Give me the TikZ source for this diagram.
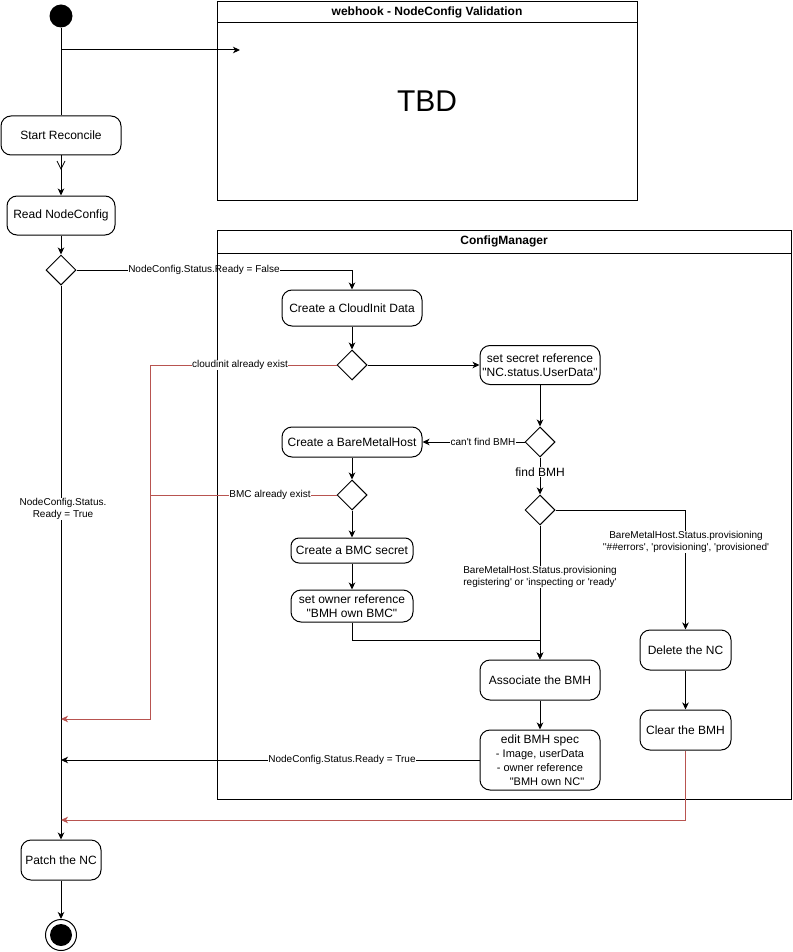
\documentclass[tikz,border=0pt]{standalone}
\usepackage{fontspec}
\setmainfont{Liberation Sans}
\usetikzlibrary{shapes.geometric,arrows.meta}
\definecolor{cmred}{HTML}{B85450}
\newcommand\sQ{\textquotesingle}
\newcommand\dQ{\textquotedbl}
\newcommand\smf{\fontsize{11}{13}\selectfont}
\begin{document}
\begin{tikzpicture}[x=1pt,y=-1pt, line width=1pt,
  >={Stealth[length=7pt,width=6.5pt,inset=2pt]},
  box/.style={draw, rounded corners=10pt, align=center, font=\fontsize{12}{14}\selectfont, inner sep=1pt},
  dec/.style={draw, diamond, minimum width=30pt, minimum height=30pt, inner sep=0pt, fill=white},
  lbl/.style={fill=white, font=\fontsize{10}{12}\selectfont, inner sep=0.5pt, align=center},
  redl/.style={draw=cmred},
  title/.style={font=\bfseries\fontsize{12}{14}\selectfont}]
\useasboundingbox (0,0) rectangle (792,952);

% ---------- nodes ----------
\node[circle, fill=black, minimum size=23pt, inner sep=0pt] (start) at (61,16) {};
\node[box, minimum width=120pt, minimum height=39pt] (sr) at (61,135.5) {Start Reconcile};
\node[box, minimum width=108pt, minimum height=39pt] (rn) at (61,215.5) {Read NodeConfig};
\node[dec] (d1) at (61,270) {};
\node[box, minimum width=80pt, minimum height=40pt] (patch) at (61,860) {Patch the NC};
\node[circle, draw, fill=white, minimum size=31pt, inner sep=0pt] (endc) at (61,935) {};
\fill (endc.center) circle[radius=11pt];

% webhook lane
\node[draw, minimum width=420pt, minimum height=199pt, anchor=north west, inner sep=0pt] (wh) at (217,1) {};
\draw (217,23) -- (637,23);
\node[title] (whtitle) at (427,12) {webhook - NodeConfig Validation};
\node[font=\fontsize{30}{36}\selectfont] (tbd) at (427,101) {TBD};

% start connectors
\draw (start.south) -- (sr.north);
\coordinate (j1) at (61,50);
\coordinate (wt) at (240,50);
\draw[->] (j1) -- (wt);
\draw[->] (sr.south) -- (rn.north);
\draw[line width=0.8pt] (57,161) -- (61,169) -- (65,161);
\draw[->] (rn.south) -- (d1.north);

% inner nodes
\node[box, minimum width=140pt, minimum height=36pt] (cid) at (352,308) {Create a CloudInit Data};
\node[dec] (d2) at (352,365) {};
\node[box, minimum width=120pt, minimum height=39pt] (ssr) at (540,365) {set secret reference\\\dQ NC.status.UserData\dQ};
\node[dec] (d3) at (540,442) {};
\node[box, minimum width=140pt, minimum height=30pt] (cbmh) at (352,442) {Create a BareMetalHost};
\node[dec] (d5) at (352,495) {};
\node[box, minimum width=122pt, minimum height=25pt, rounded corners=8pt] (bmcs) at (352,550.5) {Create a BMC secret};
\node[box, minimum width=122pt, minimum height=32pt] (sor) at (352,606) {set owner reference\\\dQ BMH own BMC\dQ};
\node[dec] (d4) at (540,510) {};
\node[box, minimum width=120pt, minimum height=40pt] (assoc) at (540,680) {Associate the BMH};
\node[box, minimum width=120pt, minimum height=60pt] (edit) at (540,760) {edit BMH spec\\\smf - Image, userData\\\smf - owner reference\\\smf\hspace*{14pt}\dQ BMH own NC\dQ};
\node[box, minimum width=91pt, minimum height=40pt] (del) at (685.5,650) {Delete the NC};
\node[box, minimum width=91pt, minimum height=40pt] (clr) at (685.5,730) {Clear the BMH};

% edge into ConfigManager (drawn before the lane)
\draw[->] (d1.east) -| (cid.north);
\node[lbl] (lfalse) at (204,270) {NodeConfig.Status.Ready = False};

% ConfigManager lane
\draw (217,230) rectangle (791,799);
\draw (217,253) -- (791,253);
\node[title] (cmtitle) at (504,241.5) {ConfigManager};

% main line
\draw[->] (d1.south) -- (patch.north);
\node[lbl] (ltrue1) at (63,509) {NodeConfig.Status.\\Ready = True};

% connectors inside
\draw[->] (cid.south) -- (d2.north);
\draw[->] (d2.east) -- (ssr.west);
\coordinate (m1) at (61,719);
\draw[redl,->] (d2.west) -- (150,365) -- (150,719) -- (m1);
\node[lbl] (lci) at (240,365) {cloudinit already exist};
\draw[redl] (d5.west) -- (150,495);
\node[lbl] (lbmc) at (270,495) {BMC already exist};

\draw[->] (ssr.south) -- (d3.north);
\draw[->] (d3.west) -- (cbmh.east);
\node[lbl] (lcant) at (483,442) {can\sQ t find BMH};
\draw[->] (d3.south) -- (d4.north);
\node[lbl, font=\fontsize{12}{14}\selectfont] (lfind) at (540,472) {find BMH};

\draw[->] (cbmh.south) -- (d5.north);
\draw[->] (d5.south) -- (bmcs.north);
\draw[->] (bmcs.south) -- (sor.north);
\draw[->] (sor.south) -- ++(0,18) -| (assoc.north);
\draw[->] (d4.south) -- (assoc.north);
\node[lbl] (lreg) at (540,577) {BareMetalHost.Status.provisioning\\registering\sQ{} or \sQ inspecting or \sQ ready\sQ};
\draw[->] (d4.east) -| (del.north);
\node[lbl] (lerr) at (686,542) {BareMetalHost.Status.provisioning\\\sQ\sQ\#\#errors\sQ, \sQ provisioning\sQ, \sQ provisioned\sQ};
\draw[->] (del.south) -- (clr.north);
\draw[->] (assoc.south) -- (edit.north);

\coordinate (m2) at (61,760);
\draw[->] (edit.west) -- (m2);
\node[lbl] (ltrue2) at (342,760) {NodeConfig.Status.Ready = True};

\coordinate (m3) at (61,820);
\draw[redl,->] (clr.south) |- (m3);

\draw[->] (patch.south) -- (endc.north);
\end{tikzpicture}
\end{document}
